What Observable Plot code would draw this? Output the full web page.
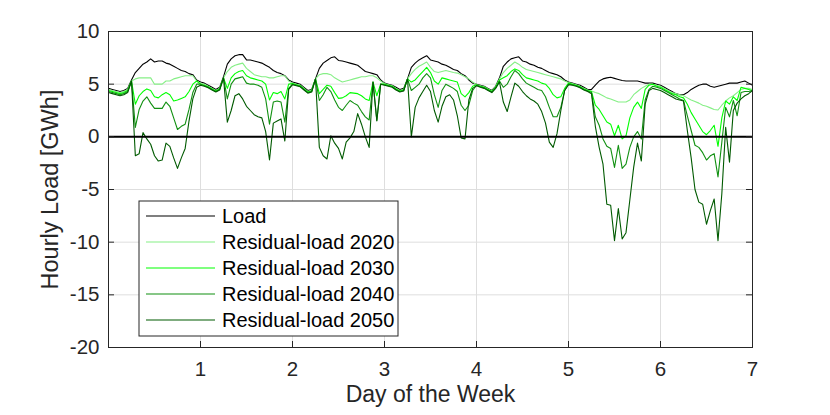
<!DOCTYPE html>
<html>
<head>
<meta charset="utf-8">
<script src="https://cdn.jsdelivr.net/npm/d3@7"></script>
<script src="https://cdn.jsdelivr.net/npm/@observablehq/plot@0.6"></script>
<style>
  body { margin: 0; background: #fff; }
  #chart { width: 830px; height: 415px; }
</style>
</head>
<body>
<div id="chart"></div>
<script>
// ---- data (hourly values, hour 0 … 168 of the week) ----
const hour = d3.range(0, 169);

const load = [
  4.6,4.5,4.4,4.3,4.4,4.6,5.4,6.1,6.5,6.9,7.1,7.4,7.1,7.2,7.2,7.0,6.9,6.7,6.5,6.3,6.2,6.0,5.9,5.4,5.2,
  5.1,4.9,4.7,4.5,4.7,5.7,6.9,7.4,7.7,7.8,7.8,7.3,7.3,7.2,7.1,7.0,6.8,6.6,6.3,6.1,6.0,5.8,5.4,5.2,
  5.1,5.0,4.7,4.4,4.5,5.5,6.5,7.0,7.25,7.5,7.6,7.25,7.2,7.1,7.0,6.9,6.8,6.5,6.2,6.1,6.0,5.9,5.4,5.1,
  5.0,4.9,4.7,4.5,4.6,5.5,6.6,7.0,7.3,7.5,7.7,7.3,7.2,7.1,6.9,6.8,6.6,6.4,6.3,6.0,5.8,5.4,5.1,5.0,
  4.9,4.8,4.6,4.4,4.8,5.6,6.7,7.1,7.4,7.5,7.6,7.2,7.1,6.9,6.8,6.6,6.5,6.3,6.1,6.0,5.9,5.7,5.4,5.2,
  5.1,5.0,4.9,4.7,4.5,4.5,4.9,5.3,5.5,5.6,5.65,5.55,5.45,5.35,5.3,5.3,5.3,5.3,5.2,5.1,5.1,5.1,5.0,4.9,
  4.7,4.5,4.3,4.1,4.0,4.0,4.2,4.5,4.7,4.9,5.0,5.0,4.8,4.7,4.8,4.9,5.0,5.1,5.1,5.1,5.2,5.3,5.1,4.9
];
const res2020 = [
  4.5,4.4,4.3,4.2,4.3,4.5,5.3,5.5,5.6,5.6,5.6,5.6,5.0,5.0,5.0,5.3,5.3,5.5,5.6,5.7,5.8,5.8,5.8,5.3,5.1,
  5.0,4.8,4.6,4.4,4.6,5.6,6.2,6.6,6.8,6.9,7.0,6.5,6.2,5.9,5.8,5.7,5.7,5.6,5.6,5.7,5.8,5.8,5.3,5.1,
  5.0,4.9,4.6,4.3,4.4,5.5,5.9,6.0,6.0,5.9,5.6,5.4,5.2,5.3,5.4,5.5,5.6,5.7,5.7,5.8,5.8,5.6,5.3,5.05,
  4.95,4.85,4.6,4.4,4.5,5.5,6.0,6.4,6.7,6.9,7.1,6.6,6.2,6.1,6.2,6.3,6.2,6.1,6.05,5.9,5.7,5.5,5.2,4.95,
  4.85,4.75,4.55,4.35,4.75,5.5,6.1,6.5,6.8,7.1,6.9,6.6,6.4,6.3,6.2,6.1,6.0,5.9,5.8,5.7,5.6,5.5,5.3,5.15,
  5.05,4.95,4.8,4.6,4.45,4.35,4.2,4.1,3.9,3.7,3.6,3.45,3.3,3.3,3.3,3.5,4.0,4.3,4.6,4.8,5.0,5.0,4.9,4.8,
  4.6,4.4,4.2,4.1,4.0,3.9,3.7,3.5,3.35,3.2,3.0,2.9,2.75,2.6,2.55,3.0,3.4,3.7,3.9,4.2,4.5,4.6,4.6,4.5
];
const res2030 = [
  4.4,4.3,4.2,4.1,4.2,4.4,5.3,3.1,3.9,4.3,4.55,4.4,3.8,3.7,4.0,4.2,4.0,3.4,3.5,3.65,3.8,4.3,5.0,5.3,5.0,
  4.9,4.75,4.55,4.35,4.55,5.6,4.6,5.6,6.0,6.2,6.3,5.8,5.6,5.5,5.4,5.3,5.0,3.5,4.2,4.1,4.3,3.6,5.0,5.05,
  4.95,4.85,4.55,4.25,4.35,5.5,4.1,4.5,4.9,4.8,4.2,3.65,3.7,3.9,4.2,4.15,4.1,3.9,3.6,3.45,5.2,3.9,5.0,5.0,
  4.9,4.8,4.55,4.35,4.45,5.5,5.2,5.4,5.8,6.2,6.6,6.1,5.3,5.0,5.6,5.5,5.4,5.3,5.2,4.1,3.8,4.2,4.8,4.95,
  4.8,4.7,4.5,4.3,4.7,5.4,5.6,5.8,6.2,6.45,6.3,5.9,5.6,5.5,5.4,5.3,5.1,5.0,4.6,4.0,3.7,3.8,4.6,5.1,
  5.0,4.9,4.75,4.55,4.4,4.3,3.0,2.6,2.0,1.4,1.2,0.1,1.1,-0.2,0.1,1.8,2.8,3.3,2.7,4.5,4.9,5.0,4.8,4.7,
  4.5,4.3,4.1,4.0,3.8,3.7,3.1,2.3,1.7,1.1,0.5,0.2,0.6,1.1,-0.9,1.8,3.4,3.1,3.8,3.45,4.7,4.6,4.5,4.4
];
const res2040 = [
  4.3,4.2,4.1,4.0,4.1,4.3,5.3,0.9,2.6,3.4,3.8,3.2,2.7,2.7,2.7,3.3,2.9,1.8,0.7,1.0,1.2,2.6,4.2,5.0,5.0,
  4.85,4.7,4.5,4.3,4.5,5.6,3.6,5.0,5.5,5.6,5.7,5.1,5.0,5.0,4.9,4.7,3.6,1.2,3.3,3.4,3.3,1.4,4.6,5.0,
  4.9,4.8,4.5,4.2,4.3,5.5,3.45,4.0,4.7,4.3,3.5,2.8,2.5,3.0,3.45,3.2,3.0,2.4,1.9,1.6,5.2,1.55,5.0,4.95,
  4.85,4.75,4.5,4.3,4.4,5.5,4.4,4.7,5.0,5.6,6.0,5.6,4.0,2.8,4.4,5.0,4.8,4.6,4.3,3.0,2.5,3.0,4.4,4.9,
  4.75,4.65,4.45,4.25,4.65,5.3,4.7,5.0,5.7,6.3,6.0,5.5,5.1,4.9,4.7,4.5,4.4,3.8,2.8,1.9,1.9,2.8,4.4,5.0,
  4.95,4.85,4.7,4.5,4.35,4.2,1.9,1.1,-0.2,-0.9,-1.1,-2.9,-0.8,-3.0,-2.6,-1.0,0.0,0.5,-0.2,3.5,4.5,4.8,4.7,4.6,
  4.4,4.2,4.0,3.8,3.6,3.45,2.0,0.6,-0.8,-1.0,-1.5,-2.2,-1.8,-1.6,-3.8,-0.5,2.8,1.9,3.45,2.0,4.2,4.3,4.3,4.4
];
const res2050 = [
  4.2,4.1,4.0,3.9,4.0,4.2,5.3,-1.8,-1.6,0.4,-0.2,-0.7,-1.8,-2.3,-2.2,-0.6,-0.9,-2.0,-3.0,-2.0,-1.1,1.5,3.6,4.7,4.9,
  4.8,4.65,4.45,4.25,4.45,5.6,1.4,2.5,3.9,4.1,3.6,2.9,2.5,2.1,1.9,1.8,0.5,-2.2,1.3,1.5,1.7,-0.4,4.5,4.95,
  4.85,4.75,4.45,4.15,4.25,5.5,-1.0,-1.8,-2.1,0.1,-0.6,-1.1,-2.1,-0.5,-0.1,0.5,2.2,1.2,0.0,-1.0,5.2,1.5,5.0,4.9,
  4.8,4.7,4.45,4.25,4.35,5.5,0.0,2.8,3.7,4.3,4.9,4.3,2.5,1.4,2.9,3.8,4.0,3.5,2.0,-0.1,-0.2,3.5,4.6,4.85,
  4.7,4.6,4.4,4.2,4.6,5.2,3.3,2.4,3.8,5.1,4.8,4.3,3.9,3.6,3.4,3.1,2.4,1.3,-0.5,-1.0,0.3,2.5,4.4,4.95,
  4.9,4.8,4.65,4.45,4.3,4.1,1.0,-1.0,-2.6,-6.4,-6.5,-9.85,-6.8,-9.7,-9.1,-6.0,-2.9,-0.6,-2.3,3.1,4.4,4.6,4.5,4.4,
  4.2,4.0,3.8,3.6,3.5,3.4,0.6,-2.0,-5.0,-6.2,-6.4,-8.3,-7.0,-5.9,-9.85,-5.4,0.9,-2.4,2.5,3.2,3.6,3.9,4.1,4.4
];

const seriesNames  = ["Load", "Residual-load 2020", "Residual-load 2030", "Residual-load 2040", "Residual-load 2050"];
const seriesColors = ["#000000", "#86ef86", "#00ff00", "#119011", "#005a00"];
const seriesValues = [load, res2020, res2030, res2040, res2050];

const xTicks = [1, 2, 3, 4, 5, 6, 7];
const yTicks = [-20, -15, -10, -5, 0, 5, 10];
const xLabel = "Day of the Week";
const yLabel = "Hourly Load [GWh]";

// ---- build table ----
const rows = seriesNames.flatMap((name, s) =>
  seriesValues[s].map((v, i) => ({ day: hour[i] / 24, value: v, name }))
);

const W = 830, H = 415;
const mL = 108, mR = 78, mT = 31, mB = 68;
const plotW = W - mL - mR, plotH = H - mT - mB;
const tick = 6;
const axisColor = "#262626";
const font = "'Liberation Sans', Arial, Helvetica, sans-serif";

const chart = Plot.plot({
  width: W, height: H,
  marginLeft: mL, marginRight: mR, marginTop: mT, marginBottom: mB,
  style: { fontFamily: font, fontSize: "20px", color: axisColor, background: "#fff" },
  x: { domain: [0, 7] },
  y: { domain: [-20, 10] },
  color: { domain: seriesNames, range: seriesColors },
  marks: [
    Plot.gridX(xTicks, { stroke: "#dedede", strokeOpacity: 1, strokeWidth: 1 }),
    Plot.gridY(yTicks, { stroke: "#dedede", strokeOpacity: 1, strokeWidth: 1 }),
    Plot.line(rows, { x: "day", y: "value", z: "name", stroke: "name", strokeWidth: 1.1 }),
    Plot.ruleY([0], { stroke: "#000", strokeWidth: 2 }),
    // inward tick marks on all four sides
    Plot.ruleX(xTicks, { x: d => d, stroke: axisColor, insetTop: plotH - tick }),
    Plot.ruleX(xTicks, { x: d => d, stroke: axisColor, insetBottom: plotH - tick }),
    Plot.ruleY(yTicks, { y: d => d, stroke: axisColor, insetRight: plotW - tick }),
    Plot.ruleY(yTicks, { y: d => d, stroke: axisColor, insetLeft: plotW - tick }),
    Plot.frame({ stroke: axisColor, strokeWidth: 1 }),
    Plot.axisX(xTicks, { anchor: "bottom", tickSize: 0, tickPadding: 14, label: null, fontSize: 20.5, tickFormat: d => String(d) }),
    Plot.axisY(yTicks, { anchor: "left", tickSize: 0, tickPadding: 9, label: null, fontSize: 20.5, tickFormat: d => String(d) }),
    Plot.text([yLabel], { frameAnchor: "left", textAnchor: "middle", rotate: -90, dx: -58, fontSize: 23.5, fill: axisColor }),
    Plot.text([xLabel], { frameAnchor: "bottom", textAnchor: "middle", dy: 54, fontSize: 23, fill: axisColor })
  ]
});

// ---- in-axes legend ----
const svg = d3.select(chart);
const lg = svg.append("g").attr("class", "legend")
  .attr("font-family", font).attr("font-size", 20).attr("text-anchor", "start");
const box = { x: 139, y: 201, w: 259, h: 135 };
lg.append("rect").attr("x", box.x).attr("y", box.y).attr("width", box.w).attr("height", box.h)
  .attr("fill", "#fff").attr("stroke", axisColor).attr("stroke-width", 1);
seriesNames.forEach((name, i) => {
  const cy = 216 + i * 26;
  lg.append("line").attr("x1", 146).attr("x2", 215).attr("y1", cy).attr("y2", cy)
    .attr("stroke", seriesColors[i]).attr("stroke-width", 1.1);
  lg.append("text").attr("x", 222).attr("y", cy).attr("dy", "0.36em")
    .attr("text-anchor", "start").attr("fill", "#000").text(name);
});

document.getElementById("chart").appendChild(chart);
</script>
</body>
</html>
